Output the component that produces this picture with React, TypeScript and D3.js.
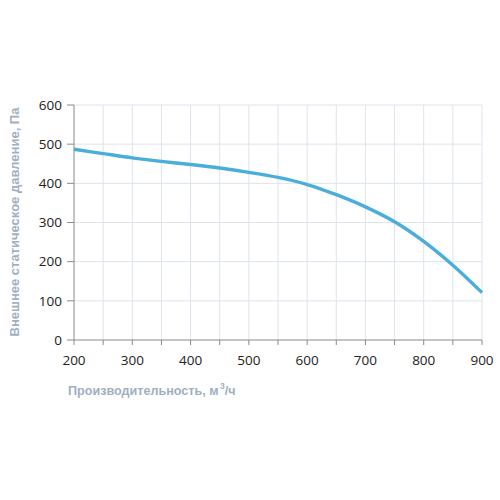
import React from "react";
import * as d3 from "d3";

const flow = [200, 250, 300, 350, 400, 450, 500, 550, 600, 650, 700, 750, 800, 850, 900];
const pressure = [487, 476, 465, 456, 448, 439, 428, 415, 397, 371, 340, 302, 252, 191, 121];
const xTicks = [200, 300, 400, 500, 600, 700, 800, 900];
const xMinor = [250, 350, 450, 550, 650, 750, 850];
const yTicks = [0, 100, 200, 300, 400, 500, 600];

export default function App() {
  const W = 500, H = 500;
  const x = d3.scaleLinear().domain([200, 900]).range([74, 482]);
  const y = d3.scaleLinear().domain([0, 600]).range([340, 105]);
  const line = d3
    .line<number>()
    .x((_, i) => x(flow[i]))
    .y((d) => y(d))
    .curve(d3.curveCatmullRom.alpha(0.5));
  const gridColor = "#dde4ec";
  const axisColor = "#8a8a8a";
  const titleColor = "#9fb0c2";
  const tickFont = "'Open Sans', sans-serif";
  return (
    <svg width={W} height={H} style={{ position: "absolute", left: 0, top: 0, background: "#fff" }}>
      {[...xTicks, ...xMinor].filter((v) => v !== 200).map((v) => (
        <line key={"gx" + v} x1={x(v)} x2={x(v)} y1={y(600)} y2={y(0)} stroke={gridColor} strokeWidth={1} />
      ))}
      {yTicks.filter((v) => v !== 0).map((v) => (
        <line key={"gy" + v} x1={x(200)} x2={x(900)} y1={y(v)} y2={y(v)} stroke={gridColor} strokeWidth={1} />
      ))}
      <line x1={x(200)} x2={x(200)} y1={y(600)} y2={y(0)} stroke={axisColor} strokeWidth={1} />
      <line x1={x(200)} x2={x(900)} y1={y(0)} y2={y(0)} stroke={axisColor} strokeWidth={1} />
      {yTicks.map((v) => (
        <g key={"yt" + v}>
          <line x1={x(200) - 7} x2={x(200)} y1={y(v)} y2={y(v)} stroke={axisColor} />
          <text x={62} y={y(v)} dy="0.35em" textAnchor="end" fontFamily={tickFont} fontSize={13.5} fill="#222">
            {v}
          </text>
        </g>
      ))}
      {[...xTicks, ...xMinor].map((v) => (
        <line key={"xt" + v} x1={x(v)} x2={x(v)} y1={y(0)} y2={y(0) + 5} stroke={axisColor} />
      ))}
      {xTicks.map((v) => (
        <text key={"xl" + v} x={x(v)} y={365} textAnchor="middle" fontFamily={tickFont} fontSize={13.5} fill="#222">
          {v}
        </text>
      ))}
      <path d={line(pressure) || ""} fill="none" stroke="#4aaedc" strokeWidth={3.4} strokeLinecap="butt" />
      <text x={68} y={395} fontFamily="'Liberation Sans', Arial, sans-serif" fontWeight="bold" fontSize={12.6} fill={titleColor}>
        Производительность, м<tspan dx={1.5} dy={-6} fontSize={8.5}>3</tspan><tspan dy={6}>/ч</tspan>
      </text>
      <text
        transform={`translate(19, ${222}) rotate(-90)`}
        textAnchor="middle"
        fontFamily="'Liberation Sans', Arial, sans-serif"
        fontWeight="bold"
        fontSize={13}
        fill={titleColor}
      >
        Внешнее статическое давление, Па
      </text>
    </svg>
  );
}
